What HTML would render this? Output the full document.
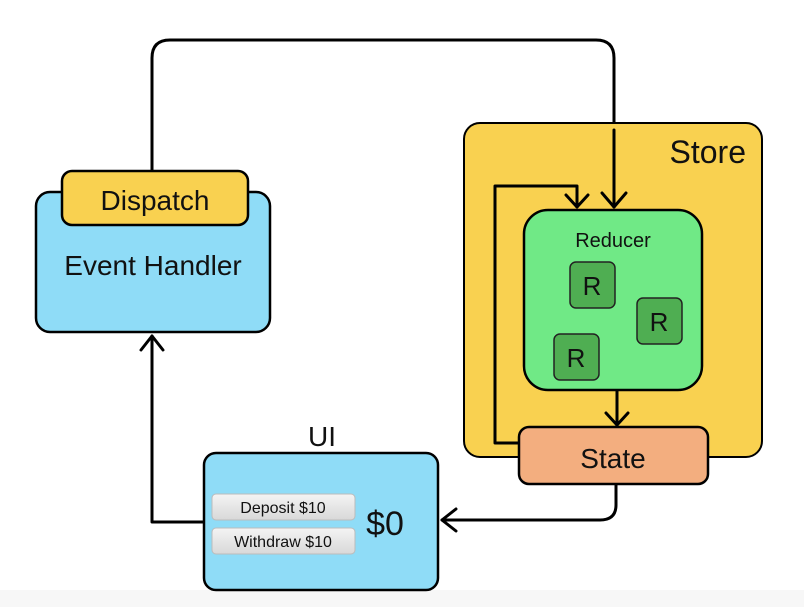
<!DOCTYPE html>
<html><head><style>
body{margin:0;background:#fff;}
svg text{font-family:"Liberation Sans",sans-serif;}
</style></head><body>
<svg width="804" height="607" viewBox="0 0 804 607">
<defs><linearGradient id="b" x1="0" y1="0" x2="0" y2="1"><stop offset="0" stop-color="#f4f4f4"/><stop offset="1" stop-color="#d8d8d8"/></linearGradient></defs>
<rect x="0" y="590" width="804" height="17" fill="#f7f7f7"/>
<g fill="none" stroke="#000" stroke-width="3" stroke-linejoin="round" stroke-linecap="round">
<path d="M152,172 V58 Q152,40 170,40 H596 Q614,40 614,58 V207"/>
<path d="M602,193 L614,207 L626,193"/>
</g>
<rect x="464" y="123" width="298" height="334" rx="16" fill="#f9d150" stroke="#000" stroke-width="2"/>
<text x="746" y="163" font-size="32" text-anchor="end" fill="#111">Store</text>
<g fill="none" stroke="#000" stroke-width="3" stroke-linejoin="round" stroke-linecap="round">
<path d="M614,130 V207"/>
<path d="M602,193 L614,207 L626,193"/>
<path d="M519,443 H495 V186 H577 V207"/>
<path d="M566,195 L577,207 L588,195"/>
</g>
<rect x="524" y="210" width="178" height="180" rx="24" fill="#70e986" stroke="#000" stroke-width="2.5"/>
<text x="613" y="247" font-size="20" text-anchor="middle" fill="#111">Reducer</text>
<g fill="#4fae52" stroke="#222" stroke-width="1.5">
<rect x="570" y="262" width="45" height="46" rx="6"/>
<rect x="637" y="298" width="45" height="46" rx="6"/>
<rect x="554" y="334" width="45" height="46" rx="6"/>
</g>
<g font-size="26" text-anchor="middle" fill="#111">
<text x="592" y="295">R</text><text x="659" y="331">R</text><text x="576" y="367">R</text>
</g>
<g fill="none" stroke="#000" stroke-width="3" stroke-linejoin="round" stroke-linecap="round">
<path d="M617,391 V425"/><path d="M606,413 L617,425 L628,413"/>
<path d="M616,485 V505 Q616,520 600,520 H442"/><path d="M456,509 L442,520 L456,531"/>
<path d="M204,522 H152 V336"/><path d="M141,350 L152,336 L163,350"/>
</g>
<rect x="519" y="427" width="189" height="57" rx="10" fill="#f3ae7f" stroke="#000" stroke-width="2.5"/>
<text x="613" y="468" font-size="28" text-anchor="middle" fill="#111">State</text>
<rect x="36" y="192" width="234" height="140" rx="14" fill="#8fdcf7" stroke="#000" stroke-width="2.5"/>
<rect x="62" y="171" width="186" height="54" rx="10" fill="#f9d150" stroke="#000" stroke-width="2.5"/>
<text x="155" y="210" font-size="28" text-anchor="middle" fill="#111">Dispatch</text>
<text x="153" y="275" font-size="28" text-anchor="middle" fill="#111">Event Handler</text>
<text x="322" y="446" font-size="28" text-anchor="middle" fill="#111">UI</text>
<rect x="204" y="453" width="234" height="137" rx="12" fill="#8fdcf7" stroke="#000" stroke-width="2.5"/>
<rect x="212" y="494" width="143" height="26" rx="4" fill="url(#b)" stroke="#bbb"/>
<rect x="212" y="528" width="143" height="26" rx="4" fill="url(#b)" stroke="#bbb"/>
<text x="283" y="513" font-size="16" text-anchor="middle" fill="#111">Deposit $10</text>
<text x="283" y="547" font-size="16" text-anchor="middle" fill="#111">Withdraw $10</text>
<text x="385" y="535" font-size="34" text-anchor="middle" fill="#111">$0</text>
</svg>
</body></html>
